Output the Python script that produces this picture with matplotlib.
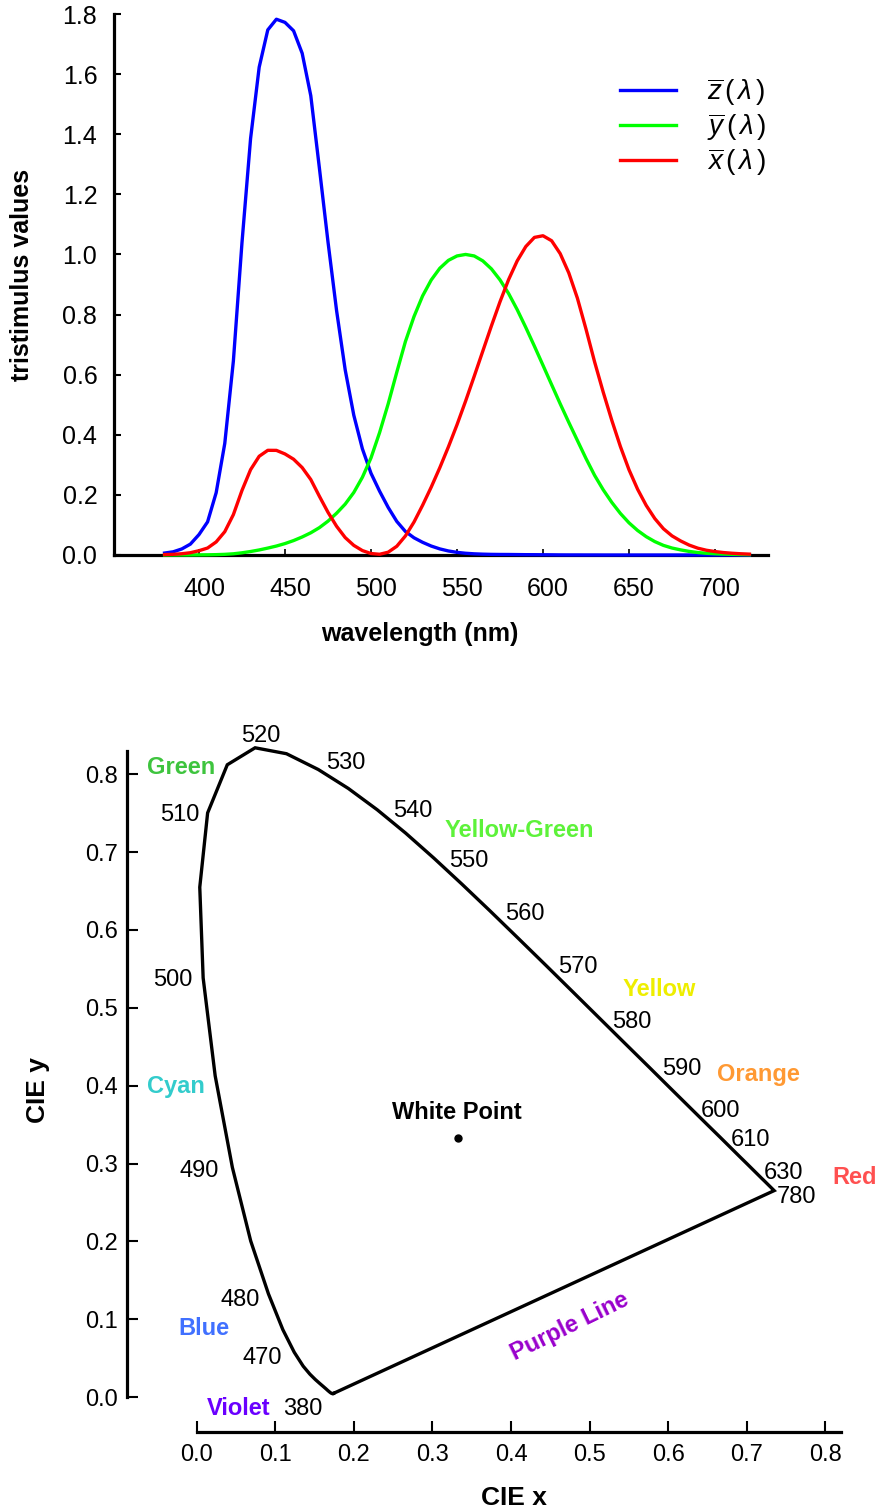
import numpy as np
import matplotlib
matplotlib.use("Agg")
import matplotlib.pyplot as plt
from matplotlib.transforms import ScaledTranslation

plt.rcParams['font.family'] = ['Liberation Sans', 'DejaVu Sans']
plt.rcParams['mathtext.fontset'] = 'custom'
plt.rcParams['mathtext.rm'] = 'Liberation Sans'
plt.rcParams['mathtext.it'] = 'Liberation Sans:italic'

# ---------------------------------------------------------------- data
# CIE 1931 colour matching functions, 5 nm steps from 380 to 720 nm
wavelength = np.arange(380, 721, 5)
x_bar = [0.0014, 0.0022, 0.0042, 0.0076, 0.0143, 0.0232, 0.0435, 0.0776, 0.1344, 0.2148,
         0.2839, 0.3285, 0.3483, 0.3481, 0.3362, 0.3187, 0.2908, 0.2511, 0.1954, 0.1421,
         0.0956, 0.0580, 0.0320, 0.0147, 0.0049, 0.0024, 0.0093, 0.0291, 0.0633, 0.1096,
         0.1655, 0.2257, 0.2904, 0.3597, 0.4334, 0.5121, 0.5945, 0.6784, 0.7621, 0.8425,
         0.9163, 0.9786, 1.0263, 1.0567, 1.0622, 1.0456, 1.0026, 0.9384, 0.8544, 0.7514,
         0.6424, 0.5419, 0.4479, 0.3608, 0.2835, 0.2187, 0.1649, 0.1212, 0.0874, 0.0636,
         0.0468, 0.0329, 0.0227, 0.0158, 0.0114, 0.0081, 0.0058, 0.0041, 0.0029]
y_bar = [0.0000, 0.0001, 0.0001, 0.0002, 0.0004, 0.0006, 0.0012, 0.0022, 0.0040, 0.0073,
         0.0116, 0.0168, 0.0230, 0.0298, 0.0380, 0.0480, 0.0600, 0.0739, 0.0910, 0.1126,
         0.1390, 0.1693, 0.2080, 0.2586, 0.3230, 0.4073, 0.5030, 0.6082, 0.7100, 0.7932,
         0.8620, 0.9149, 0.9540, 0.9803, 0.9950, 1.0000, 0.9950, 0.9786, 0.9520, 0.9154,
         0.8700, 0.8163, 0.7570, 0.6949, 0.6310, 0.5668, 0.5030, 0.4412, 0.3810, 0.3210,
         0.2650, 0.2170, 0.1750, 0.1382, 0.1070, 0.0816, 0.0610, 0.0446, 0.0320, 0.0232,
         0.0170, 0.0119, 0.0082, 0.0057, 0.0041, 0.0029, 0.0021, 0.0015, 0.0010]
z_bar = [0.0065, 0.0106, 0.0201, 0.0362, 0.0679, 0.1102, 0.2074, 0.3713, 0.6456, 1.0391,
         1.3856, 1.6230, 1.7471, 1.7826, 1.7721, 1.7441, 1.6692, 1.5281, 1.2876, 1.0419,
         0.8130, 0.6162, 0.4652, 0.3533, 0.2720, 0.2123, 0.1582, 0.1117, 0.0783, 0.0573,
         0.0422, 0.0298, 0.0203, 0.0134, 0.0088, 0.0058, 0.0039, 0.0028, 0.0021, 0.0018,
         0.0017, 0.0014, 0.0011, 0.0010, 0.0008, 0.0006, 0.0003, 0.0002, 0.0002, 0.0001,
         0.0001, 0.0000, 0.0000, 0.0000, 0.0000, 0.0000, 0.0000, 0.0000, 0.0000, 0.0000,
         0.0000, 0.0000, 0.0000, 0.0000, 0.0000, 0.0000, 0.0000, 0.0000, 0.0000]
wl_ticks = [400, 450, 500, 550, 600, 650, 700]
tri_ticks = [0.0, 0.2, 0.4, 0.6, 0.8, 1.0, 1.2, 1.4, 1.6, 1.8]

# spectral locus chromaticities (nm, x, y); the last point closes at 780 nm
locus_nm = [380, 385, 390, 395, 400, 405, 410, 415, 420, 425, 430, 435, 440, 445, 450,
            455, 460, 465, 470, 475, 480, 485, 490, 495, 500, 505, 510, 515, 520, 525,
            530, 535, 540, 545, 550, 555, 560, 565, 570, 575, 580, 585, 590, 595, 600,
            605, 610, 615, 620, 625, 630, 635, 640, 645, 650, 655, 660, 665, 670, 675,
            680, 685, 690, 695, 700, 780]
locus_x = [0.1741, 0.1740, 0.1738, 0.1736, 0.1733, 0.1730, 0.1726, 0.1721, 0.1714, 0.1703,
           0.1689, 0.1669, 0.1644, 0.1611, 0.1566, 0.1510, 0.1440, 0.1355, 0.1241, 0.1096,
           0.0913, 0.0687, 0.0454, 0.0235, 0.0082, 0.0039, 0.0139, 0.0389, 0.0743, 0.1142,
           0.1547, 0.1929, 0.2296, 0.2658, 0.3016, 0.3373, 0.3731, 0.4087, 0.4441, 0.4788,
           0.5125, 0.5448, 0.5752, 0.6029, 0.6270, 0.6482, 0.6658, 0.6801, 0.6915, 0.7006,
           0.7079, 0.7140, 0.7190, 0.7230, 0.7260, 0.7283, 0.7300, 0.7311, 0.7320, 0.7327,
           0.7334, 0.7340, 0.7344, 0.7346, 0.7347, 0.7347]
locus_y = [0.0050, 0.0050, 0.0049, 0.0049, 0.0048, 0.0048, 0.0048, 0.0048, 0.0051, 0.0058,
           0.0069, 0.0086, 0.0109, 0.0138, 0.0177, 0.0227, 0.0297, 0.0399, 0.0578, 0.0868,
           0.1327, 0.2007, 0.2950, 0.4127, 0.5384, 0.6548, 0.7502, 0.8120, 0.8338, 0.8262,
           0.8059, 0.7816, 0.7543, 0.7243, 0.6923, 0.6589, 0.6245, 0.5896, 0.5547, 0.5202,
           0.4866, 0.4544, 0.4242, 0.3965, 0.3725, 0.3514, 0.3340, 0.3197, 0.3083, 0.2993,
           0.2920, 0.2859, 0.2809, 0.2770, 0.2740, 0.2717, 0.2700, 0.2689, 0.2680, 0.2673,
           0.2666, 0.2660, 0.2656, 0.2654, 0.2653, 0.2653]
white_point = (0.333, 0.333)
cie_ticks = [0.0, 0.1, 0.2, 0.3, 0.4, 0.5, 0.6, 0.7, 0.8]

# wavelengths that get a number on the locus, with where the number sits
marked_nm = [380, 470, 480, 490, 500, 510, 520, 530, 540, 550, 560, 570, 580, 590, 600, 610, 630, 780]
marked_pos = {380: (0.135, -0.015), 470: (0.083, 0.050), 480: (0.055, 0.125),
              490: (0.003, 0.290), 500: (-0.030, 0.536), 510: (-0.021, 0.747),
              520: (0.082, 0.849), 530: (0.190, 0.814), 540: (0.275, 0.753),
              550: (0.346, 0.689), 560: (0.417, 0.620), 570: (0.485, 0.552),
              580: (0.554, 0.482), 590: (0.617, 0.422), 600: (0.667, 0.368),
              610: (0.704, 0.330), 630: (0.747, 0.288), 780: (0.763, 0.257)}

# colour region names
region_names = ['Green', 'Yellow-Green', 'Yellow', 'Orange', 'Red', 'Cyan', 'Blue', 'Violet']
region_colors = ['#3ec43e', '#5df23a', '#eeee00', '#ff9933', '#ff5050', '#33cccc', '#4070ff', '#6a00ff']
region_pos = [(-0.020, 0.809), (0.410, 0.727), (0.588, 0.524), (0.7145, 0.414),
              (0.8375, 0.282), (-0.027, 0.399), (0.009, 0.088), (0.054, -0.014)]

# ---------------------------------------------------------------- figure
W, H = 879, 1512
fig = plt.figure(figsize=(W / 100, H / 100), dpi=100)


def px_box(left, top, right, bottom):
    return [left / W, 1 - bottom / H, (right - left) / W, (bottom - top) / H]


def px_text(px, py, s, **kw):
    fig.text(px / W, 1 - py / H, s, ha='center', va='center', **kw)


# ---- colour matching functions
ax1 = fig.add_axes(px_box(114, 14, 768, 555))
line_z, = ax1.plot(wavelength, z_bar, color='#0000ff', lw=2.4, clip_on=False, zorder=3)
line_y, = ax1.plot(wavelength, y_bar, color='#00ff00', lw=2.4, clip_on=False, zorder=3)
line_x, = ax1.plot(wavelength, x_bar, color='#ff0000', lw=2.4, clip_on=False, zorder=3)
ax1.set_xlim(350.6, 730.8)
ax1.set_ylim(0, 1.8)
for side in ('top', 'right'):
    ax1.spines[side].set_visible(False)
for side in ('left', 'bottom'):
    ax1.spines[side].set_linewidth(2.3)
ax1.set_xticks(wl_ticks)
ax1.set_yticks(tri_ticks)
ax1.set_yticklabels([f'{v:.1f}' for v in tri_ticks])
ax1.tick_params(axis='y', direction='in', length=5, width=1.5, labelsize=18, pad=12)
ax1.tick_params(axis='x', direction='in', length=4, width=1.2, labelsize=18, pad=16)
shift = ScaledTranslation(5 / 100, 0, fig.dpi_scale_trans)
for lbl in ax1.get_xticklabels():
    lbl.set_transform(lbl.get_transform() + shift)

leg = ax1.legend([line_z, line_y, line_x],
                 [r'$\overline{z}\,(\,\lambda\,)$', r'$\overline{y}\,(\,\lambda\,)$',
                  r'$\overline{x}\,(\,\lambda\,)$'],
                 loc='center left', bbox_to_anchor=((620 - 114) / 654, (555 - 127) / 541),
                 frameon=False, fontsize=20, handlelength=2.0, handletextpad=1.15,
                 labelspacing=0.12, borderpad=0, borderaxespad=0)

px_text(22, 275, 'tristimulus values', fontsize=18, fontweight='bold', rotation=90)
px_text(420, 634, 'wavelength (nm)', fontsize=18, fontweight='bold')

# ---- chromaticity diagram
ax2 = fig.add_axes(px_box(127.3, 740, 850, 1431.7))
ax2.plot(locus_x + [locus_x[0]], locus_y + [locus_y[0]], color='black', lw=2.4,
         solid_joinstyle='miter', clip_on=False)
ax2.plot(*white_point, 'o', color='black', ms=5)
ax2.set_xlim(-0.0883, 0.8312)
ax2.set_ylim(-0.0442, 0.8438)
for side in ('top', 'right'):
    ax2.spines[side].set_visible(False)
for side in ('left', 'bottom'):
    ax2.spines[side].set_linewidth(2.3)
ax2.spines['left'].set_bounds(0, 0.83)
ax2.spines['bottom'].set_bounds(0, 0.82)
ax2.set_xticks(cie_ticks)
ax2.set_yticks(cie_ticks)
ax2.set_xticklabels([f'{v:.1f}' for v in cie_ticks])
ax2.set_yticklabels([f'{v:.1f}' for v in cie_ticks])
ax2.tick_params(axis='y', direction='in', length=8, width=1.5, labelsize=17, pad=7)
ax2.tick_params(axis='x', direction='in', length=8, width=1.5, labelsize=17, pad=9)

for nm in marked_nm:
    tx, ty = marked_pos[nm]
    ax2.text(tx, ty, str(nm), fontsize=17, ha='center', va='center')

for name, col, (tx, ty) in zip(region_names, region_colors, region_pos):
    ax2.text(tx, ty, name, fontsize=17, fontweight='bold', color=col, ha='center', va='center')

ax2.text(0.331, 0.365, 'White Point', fontsize=17, fontweight='bold', ha='center', va='center')
ax2.text(0.475, 0.091, 'Purple Line', fontsize=17, fontweight='bold', color='#9900cc',
         ha='center', va='center', rotation=26, rotation_mode='anchor')

px_text(514, 1498, 'CIE x', fontsize=19, fontweight='bold')
px_text(38, 1090, 'CIE y', fontsize=19, fontweight='bold', rotation=90)

fig.savefig('out.png', dpi=100)
